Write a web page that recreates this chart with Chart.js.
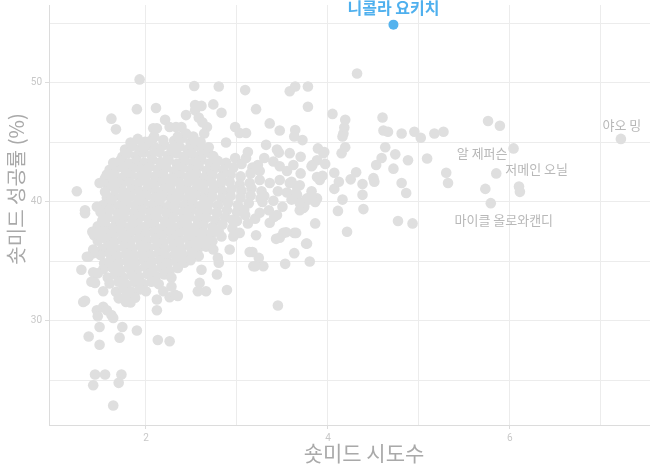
<!DOCTYPE html>
<html>
<head>
<meta charset="utf-8">
<script src="https://cdn.jsdelivr.net/npm/chart.js@4.4.1/dist/chart.umd.min.js"></script>
<style>
  html, body { margin: 0; padding: 0; background: #fff; }
  #wrap { width: 650px; height: 466px; position: relative; }
</style>
</head>
<body>
<div id="wrap"><canvas id="shotChart"></canvas></div>
<script>
// highlighted player
const highlightName = '니콜라 요키치';
const highlightX = [4.72];
const highlightY = [54.9];

// labelled players (grey)
const labeledNames = ['야오 밍', '알 제퍼슨', '저메인 오닐', '마이클 올로와캔디'];
const labeledX = [7.22, 6.04, 5.85, 5.79];
const labeledY = [45.3, 44.5, 42.4, 39.9];

// tick labels
const xTickLabels = [2, 4, 6];
const yTickLabels = [30, 40, 50];

// every other player: [attempts, pct]
const restPoints = [
  // dense core, read row by row
  [1.83,45.0],[1.91,45.3],[1.99,45.05],[2.08,45.35],[2.31,45.15],[2.4,45.4],[2.49,45.0],
  [1.77,44.4],[1.85,44.7],[1.93,44.45],[2.02,44.75],[2.11,44.55],[2.2,44.8],[2.28,44.5],[2.37,44.65],[2.46,44.4],[2.55,44.7],[2.63,44.5],
  [1.74,43.8],[1.8,44.1],[1.89,43.85],[1.97,44.15],[2.06,43.95],[2.15,44.2],[2.24,43.9],[2.33,44.1],[2.41,43.8],[2.5,44.05],[2.59,43.9],[2.68,44.15],[2.74,43.85],
  [1.66,43.2],[1.72,43.5],[1.81,43.25],[1.9,43.45],[1.98,43.3],[2.07,43.55],[2.16,43.35],[2.25,43.5],[2.34,43.2],[2.43,43.45],[2.52,43.3],[2.61,43.55],[2.7,43.25],[2.79,43.45],[2.88,43.3],
  [1.6,42.7],[1.69,42.9],[1.78,42.65],[1.86,42.85],[1.95,42.7],[2.04,42.95],[2.13,42.75],[2.22,42.9],[2.31,42.6],[2.4,42.85],[2.49,42.7],[2.58,42.95],[2.67,42.65],[2.76,42.85],[2.85,42.7],[2.96,42.9],
  [1.59,42.0],[1.65,42.3],[1.74,42.05],[1.83,42.25],[1.92,42.1],[2.01,42.35],[2.1,42.15],[2.19,42.3],[2.28,42.0],[2.37,42.25],[2.46,42.1],[2.55,42.35],[2.64,42.05],[2.73,42.25],[2.83,42.1],[2.93,42.3],[3.04,42.15],
  [1.58,41.4],[1.64,41.7],[1.73,41.45],[1.82,41.65],[1.91,41.5],[2.0,41.75],[2.09,41.55],[2.18,41.7],[2.27,41.4],[2.36,41.65],[2.45,41.5],[2.54,41.75],[2.63,41.45],[2.72,41.65],[2.82,41.5],[2.92,41.7],[3.03,41.45],[3.14,41.6],
  [1.55,40.85],[1.66,41.1],[1.75,40.85],[1.84,41.05],[1.93,40.9],[2.02,41.15],[2.11,40.95],[2.2,41.1],[2.29,40.8],[2.38,41.05],[2.47,40.9],[2.56,41.15],[2.65,40.85],[2.74,41.05],[2.84,40.9],[2.94,41.1],[3.05,40.95],[3.16,41.15],[3.27,40.9],
  [1.57,40.35],[1.65,40.5],[1.74,40.25],[1.83,40.45],[1.92,40.3],[2.01,40.55],[2.1,40.35],[2.19,40.5],[2.28,40.2],[2.37,40.45],[2.46,40.3],[2.55,40.55],[2.64,40.25],[2.73,40.45],[2.83,40.3],[2.93,40.5],[3.04,40.35],[3.15,40.55],[3.26,40.3],
  [1.53,39.75],[1.61,39.9],[1.7,39.65],[1.79,39.85],[1.88,39.7],[1.97,39.95],[2.06,39.75],[2.15,39.9],[2.24,39.6],[2.33,39.85],[2.42,39.7],[2.51,39.95],[2.6,39.65],[2.69,39.85],[2.79,39.7],[2.9,39.9],[3.01,39.75],[3.13,39.9],
  [1.5,39.15],[1.6,39.3],[1.69,39.05],[1.78,39.25],[1.87,39.1],[1.96,39.35],[2.05,39.15],[2.14,39.3],[2.23,39.0],[2.32,39.25],[2.41,39.1],[2.5,39.35],[2.59,39.05],[2.68,39.25],[2.78,39.1],[2.89,39.3],[3.0,39.15],[3.08,39.35],
  [1.52,38.45],[1.58,38.7],[1.67,38.45],[1.76,38.65],[1.85,38.5],[1.94,38.75],[2.03,38.55],[2.12,38.7],[2.21,38.4],[2.3,38.65],[2.39,38.5],[2.48,38.75],[2.57,38.45],[2.66,38.65],[2.76,38.5],[2.87,38.7],[2.95,38.5],
  [1.47,37.95],[1.55,38.1],[1.64,37.85],[1.73,38.05],[1.82,37.9],[1.91,38.15],[2.0,37.95],[2.09,38.1],[2.18,37.8],[2.27,38.05],[2.36,37.9],[2.45,38.15],[2.54,37.85],[2.63,38.05],[2.73,37.9],[2.84,38.1],
  [1.5,37.25],[1.55,37.5],[1.64,37.25],[1.73,37.45],[1.82,37.3],[1.91,37.55],[2.0,37.35],[2.09,37.5],[2.18,37.2],[2.27,37.45],[2.36,37.3],[2.45,37.55],[2.54,37.25],[2.63,37.45],[2.72,37.3],[2.8,37.5],
  [1.47,36.75],[1.56,36.9],[1.65,36.65],[1.74,36.85],[1.83,36.7],[1.92,36.95],[2.01,36.75],[2.1,36.9],[2.19,36.6],[2.28,36.85],[2.37,36.7],[2.46,36.95],[2.55,36.65],[2.64,36.85],[2.73,36.7],
  [1.52,36.05],[1.58,36.3],[1.67,36.05],[1.76,36.25],[1.85,36.1],[1.94,36.35],[2.03,36.15],[2.12,36.3],[2.21,36.0],[2.3,36.25],[2.39,36.1],[2.48,36.35],[2.57,36.05],[2.66,36.25],
  [1.5,35.55],[1.6,35.7],[1.69,35.45],[1.78,35.65],[1.87,35.5],[1.96,35.75],[2.05,35.55],[2.14,35.7],[2.23,35.4],[2.32,35.65],[2.41,35.5],[2.5,35.75],[2.58,35.45],
  [1.54,34.85],[1.61,35.1],[1.7,34.85],[1.79,35.05],[1.88,34.9],[1.97,35.15],[2.06,34.95],[2.15,35.1],[2.24,34.8],[2.33,35.05],[2.42,34.9],[2.49,35.1],
  [1.53,34.35],[1.63,34.5],[1.72,34.25],[1.81,34.45],[1.9,34.3],[1.99,34.55],[2.08,34.35],[2.17,34.5],[2.26,34.2],[2.35,34.45],
  [1.58,33.65],[1.66,33.9],[1.75,33.65],[1.84,33.85],[1.93,33.7],[2.02,33.95],[2.11,33.75],[2.2,33.9],[2.28,33.65],
  [1.6,33.15],[1.7,33.3],[1.79,33.05],[1.88,33.25],[1.97,33.1],[2.06,33.3],[2.14,33.1],
  [1.67,32.45],[1.75,32.7],[1.84,32.45],[1.93,32.65],[2.0,32.5],
  [1.7,31.9],[1.79,32.1],[1.88,31.95],
  // left edge and top of the cloud
  [1.24,40.9],[1.33,39.3],[1.33,39.05],[1.46,39.6],[1.49,41.6],[1.55,42.0],[1.57,42.3],[1.62,40.2],[1.64,43.3],[1.75,43.0],[1.68,41.6],
  [1.62,47.0],[1.67,46.1],[1.9,47.8],[1.93,50.3],[2.11,47.9],[2.53,49.75],[2.21,46.9],[2.26,46.3],[2.39,46.3],[2.12,46.2],[2.44,47.3],
  [2.08,46.2],[2.33,46.3],[2.44,45.75],[2.35,45.5],[2.19,45.2],[2.09,45.5],[2.03,45.05],[1.97,44.6],
  [2.54,47.7],[2.58,47.1],[2.62,46.7],[2.67,46.3],[2.64,45.75],[2.52,45.5],[2.6,45.05],[2.69,44.6],
  [2.54,48.15],[2.61,48.07],[2.74,48.2],[2.83,47.5],[2.8,49.7],[3.09,49.4],[3.58,49.3],[3.64,49.7],[3.78,49.7],[3.78,48.0],[3.21,47.8],
  // middle band
  [3.36,46.6],[3.47,46.0],[3.64,46.05],[3.63,45.5],[3.72,45.2],[2.98,46.3],[3.03,45.8],[3.1,45.8],[2.88,45.0],[3.32,44.8],[3.44,44.4],[3.46,44.15],
  [2.98,43.7],[3.1,43.7],[3.23,43.1],[3.17,42.9],[3.4,43.4],[3.47,43.0],[3.88,43.5],[3.95,44.1],[3.82,43.0],[3.88,42.1],[3.91,41.85],
  [3.58,41.6],[3.66,41.3],[3.47,41.85],[3.36,41.6],[3.25,41.85],[3.77,40.3],[3.88,40.3],[3.66,40.6],
  [3.89,44.5],[3.96,44.2],[3.83,43.1],[3.97,43.2],[3.94,42.2],[3.79,40.2],[3.69,39.3],[3.74,39.6],
  [3.6,40.2],[3.73,39.5],[3.86,40.0],[3.82,40.4],
  [3.6,41.7],[3.69,41.4],[3.64,40.7],[3.76,40.2],[3.69,39.9],[3.82,40.9],
  [3.3,40.5],[3.4,40.1],[3.5,39.6],[3.35,39.3],[3.55,40.8],[3.45,40.9],[3.28,40.0],
  [3.05,43.2],[3.15,42.4],[3.25,42.6],[3.3,43.7],[3.12,44.2],
  [3.55,42.6],[3.62,43.1],[3.7,42.4],[3.58,44.1],[3.7,43.8],
  [3.0,38.4],[3.12,38.2],[2.95,37.8],[3.2,38.6],
  [3.86,38.2],[3.76,36.5],[3.63,35.7],[3.8,35.0],[3.53,34.8],[3.45,31.3],[2.89,32.6],[2.59,33.2],[2.57,32.5],[2.66,32.5],[2.78,33.9],[2.8,34.9],[2.92,36.0],
  [3.14,35.8],[3.21,37.2],[3.24,35.3],[3.18,34.6],[3.29,34.6],[3.63,37.4],[3.43,36.9],[3.51,37.4],[3.03,37.4],[2.96,37.1],[2.83,37.1],[3.36,38.25],[3.44,38.9],
  [3.25,39.1],[3.09,38.9],[2.74,37.8],[2.59,36.8],[2.74,36.0],[2.79,35.3],[2.61,34.3],
  [3.2,34.6],[3.17,35.8],[3.47,37.0],[3.54,37.45],[3.41,38.75],[3.65,37.4],[3.77,36.5],
  // lower left tail
  [1.29,34.3],[1.35,35.4],[1.42,35.7],[1.42,33.3],[1.31,31.6],[1.46,30.9],[1.53,31.2],[1.57,30.9],[1.62,30.5],[1.64,30.25],[1.47,30.4],[1.49,29.5],
  [1.37,28.7],[1.49,28.0],[1.71,28.6],[1.74,29.5],[1.9,29.2],[2.13,28.4],[2.26,28.3],[1.44,25.5],[1.55,25.5],[1.42,24.6],[1.73,25.5],[1.7,24.8],[1.64,22.9],
  [2.12,31.8],[2.12,30.9],[2.26,32.0],[2.32,32.2],[2.19,32.5],[2.28,32.9],[2.35,32.1],[1.78,31.6],[1.83,31.55],
  [1.43,37.2],[1.45,37.35],[1.41,37.5],[1.42,36.0],[1.42,34.1],[1.4,33.3],[1.37,35.4],[1.47,34.0],[1.44,33.2],[1.33,31.7],[1.53,32.5],
  // high-volume shooters
  [4.05,47.4],[4.19,46.9],[4.18,46.25],[4.17,45.75],[4.16,45.5],[4.19,44.6],[4.15,44.1],[4.32,50.8],[4.6,47.1],[4.61,46.0],[4.66,45.9],[4.81,45.75],
  [4.95,45.9],[5.02,45.4],[5.17,45.75],[5.27,45.9],[4.63,44.6],[4.74,44.0],[4.88,43.5],[4.72,42.8],[4.59,43.7],[4.53,43.1],[5.09,43.65],[5.3,42.45],
  [5.32,41.6],[4.81,41.6],[4.86,40.75],[4.5,42.0],[4.51,41.7],[4.31,42.5],[4.38,41.5],[4.38,40.6],[4.25,41.9],[4.39,39.4],[4.16,40.2],[4.11,39.25],
  [4.07,41.1],[4.12,41.7],[4.07,42.45],[4.77,38.4],[4.93,38.2],[4.21,37.5],[5.76,46.8],[5.89,46.4],[5.73,41.1],[6.1,41.3],[6.11,40.85]
];

const pointGrey = '#dfdfdf';
const greyData = restPoints.map(p => ({ x: p[0], y: p[1] }))
  .concat(labeledX.map((x, i) => ({ x: x, y: labeledY[i] })));

// label placement (pixels, relative to the point)
const labelStyle = [
  { align: 'center', dx: 1, dy: -14 },
  { align: 'right', dx: -6, dy: 5 },
  { align: 'left', dx: 9, dy: -4 },
  { align: 'center', dx: 13, dy: 17 }
];

const labelPlugin = {
  id: 'labels',
  afterDraw(chart) {
    const ctx = chart.ctx, xs = chart.scales.x, ys = chart.scales.y;
    ctx.save();
    ctx.textBaseline = 'middle';
    ctx.font = '13px "Noto Sans CJK KR"';
    ctx.fillStyle = '#b8b8b8';
    labeledNames.forEach((name, i) => {
      const st = labelStyle[i];
      ctx.textAlign = st.align;
      ctx.fillText(name, xs.getPixelForValue(labeledX[i]) + st.dx, ys.getPixelForValue(labeledY[i]) + st.dy);
    });
    ctx.font = 'bold 16px "Noto Sans CJK KR"';
    ctx.fillStyle = '#4fb0ee';
    ctx.textAlign = 'center';
    ctx.fillText(highlightName, xs.getPixelForValue(highlightX[0]), ys.getPixelForValue(highlightY[0]) - 17);

    // axis titles
    ctx.fillStyle = '#a9a9a9';
    ctx.font = '21px "Noto Sans CJK KR"';
    ctx.fillText('숏미드 시도수', 364, 453);
    ctx.font = '20px "Noto Sans CJK KR"';
    ctx.translate(16, 189);
    ctx.rotate(-Math.PI / 2);
    ctx.fillText('숏미드 성공률 (%)', 0, 0);
    ctx.restore();
  }
};

Chart.defaults.font.family = 'Roboto';

const tickMark = list => c => (c.tick && list.includes(c.tick.value)) ? '#dcdcdc' : 'rgba(0,0,0,0)';

new Chart(document.getElementById('shotChart'), {
  type: 'scatter',
  data: {
    datasets: [
      { data: greyData, backgroundColor: pointGrey, pointRadius: 5.3, borderWidth: 0, pointHoverRadius: 5.3 },
      { data: highlightX.map((x, i) => ({ x: x, y: highlightY[i] })), backgroundColor: '#55b3ee', pointRadius: 5, borderWidth: 0 }
    ]
  },
  options: {
    responsive: true,
    maintainAspectRatio: false,
    animation: false,
    layout: { autoPadding: false, padding: { top: 5, right: 0, left: 0, bottom: 0 } },
    plugins: { legend: { display: false }, tooltip: { enabled: false } },
    scales: {
      x: {
        min: 0.934, max: 7.54,
        afterFit(scale) { scale.height = 41; scale.paddingLeft = 0; scale.paddingRight = 0; },
        border: { color: '#dcdcdc', width: 1 },
        grid: {
          color: c => (c.tick && c.tick.value === 1) ? 'rgba(0,0,0,0)' : '#ececec',
          tickLength: 4, tickColor: tickMark(xTickLabels)
        },
        ticks: {
          stepSize: 1, includeBounds: false, padding: 3, maxRotation: 0, autoSkip: false,
          color: '#c8c8c8', font: { size: 10 },
          callback: v => xTickLabels.includes(v) ? String(v) : ''
        }
      },
      y: {
        min: 21.26, max: 56.55,
        afterFit(scale) { scale.width = 49; scale.paddingTop = 0; scale.paddingBottom = 0; },
        border: { color: '#dcdcdc', width: 1 },
        grid: { color: '#ececec', tickLength: 4, tickColor: tickMark(yTickLabels) },
        ticks: {
          stepSize: 5, includeBounds: false, padding: 3, autoSkip: false,
          color: '#c8c8c8', font: { size: 10 },
          callback: v => yTickLabels.includes(v) ? String(v) : ''
        }
      }
    }
  },
  plugins: [labelPlugin]
});
</script>
</body>
</html>
